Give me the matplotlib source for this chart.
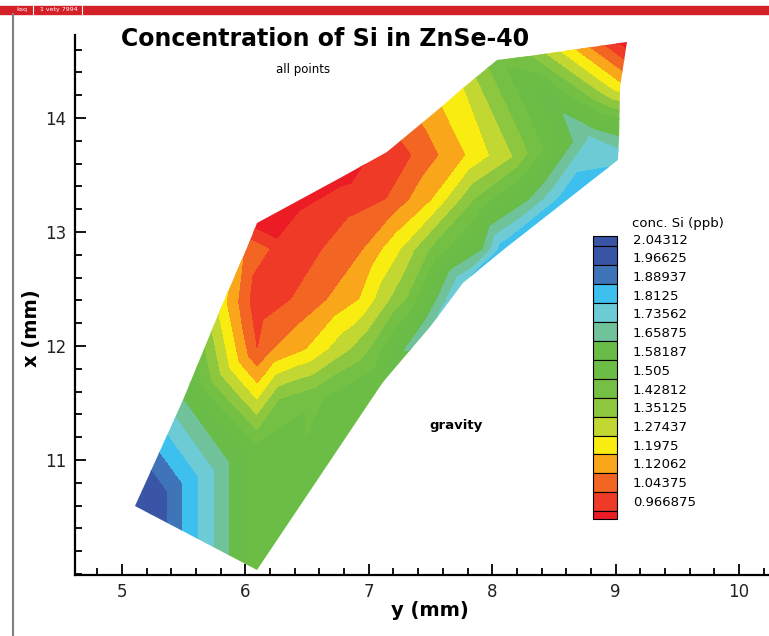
import matplotlib
matplotlib.use("Agg")
import matplotlib.pyplot as plt
import matplotlib.tri as mtri
from matplotlib.patches import Polygon, Rectangle
from matplotlib.ticker import MultipleLocator
import numpy as np

# measurement points: horizontal "y (mm)", vertical "x (mm)", conc. Si (ppb)
# first 21 points are the outline of the sample, in order
y_mm = [5.105, 6.094, 7.115, 7.496, 7.763, 8.088, 8.606, 9.019, 9.028, 9.036,
        9.092, 8.306, 8.039, 7.763, 7.577, 7.147, 6.767, 6.094, 6.013, 5.818,
        5.494,
        6.094, 6.094, 6.094, 6.094, 6.280, 6.605,
        6.224, 6.499, 6.661, 6.848, 7.010, 7.293,
        6.378, 6.661, 6.929, 7.172, 7.310, 7.553,
        6.361, 6.629, 6.953, 7.253, 7.496, 7.925,
        6.767, 7.147, 7.520, 7.861, 8.306,
        7.358, 7.796, 8.169, 8.525, 8.793]
x_mm = [10.596, 10.035, 11.684, 12.167, 12.553, 12.842, 13.281, 13.632, 13.833, 14.272,
        14.667, 14.544, 14.509, 14.263, 14.088, 13.702, 13.474, 13.079, 12.860, 12.377,
        11.526,
        12.404, 11.965, 11.526, 11.088, 11.526, 11.526,
        11.965, 11.965, 11.965, 11.965, 11.965, 11.965,
        12.404, 12.404, 12.404, 12.404, 12.404, 12.404,
        12.842, 12.842, 12.842, 12.842, 12.842, 12.842,
        13.281, 13.281, 13.281, 13.281, 13.281,
        13.675, 13.675, 13.658, 14.088, 13.825]
si_ppb = [2.12, 1.52, 1.58, 1.72, 1.80, 1.86, 1.87, 1.80, 1.66, 1.22,
          0.92, 1.43, 1.48, 1.27, 1.19, 0.99, 0.94, 0.93, 1.10, 1.22,
          1.66,
          0.99, 1.04, 1.27, 1.52, 1.43, 1.50,
          1.12, 1.20, 1.27, 1.35, 1.43, 1.66,
          1.045, 1.12, 1.20, 1.35, 1.43, 1.66,
          0.99, 1.045, 1.12, 1.27, 1.43, 1.66,
          1.00, 1.045, 1.20, 1.43, 1.66,
          1.045, 1.20, 1.35, 1.64, 1.74]
outline = list(range(21))

levels = [0.966875, 1.04375, 1.120625, 1.1975, 1.274375, 1.35125, 1.428125, 1.505,
          1.581875, 1.65875, 1.735625, 1.8125, 1.889375, 1.96625, 2.043125]
level_labels = ["2.04312", "1.96625", "1.88937", "1.8125", "1.73562", "1.65875",
                "1.58187", "1.505", "1.42812", "1.35125", "1.27437", "1.1975",
                "1.12062", "1.04375", "0.966875"]

# band colours, lowest to highest
band_colors = ["#ec1c24", "#ee3a26", "#f26522", "#faa61a", "#f8ec10", "#c2d731",
               "#8dc63f", "#74c044", "#6cbd45", "#68bc47", "#6fc29a", "#6ccbd5",
               "#3ec0ee", "#4074b9", "#3a55a5", "#3a55a5"]

fig = plt.figure(figsize=(7.69, 6.36), dpi=100)
ax = fig.add_axes([75 / 769, 61 / 636, 694 / 769, 540 / 636])

tri = mtri.Triangulation(y_mm, x_mm)
bounds = [0.0] + levels + [3.0]
cs = ax.tricontourf(tri, si_ppb, levels=bounds, colors=band_colors)
shape = Polygon(np.column_stack([np.take(y_mm, outline), np.take(x_mm, outline)]),
                closed=True, transform=ax.transData, facecolor="none", edgecolor="none")
cs.set_clip_path(shape)

ax.set_xlim(4.619, 10.243)
ax.set_ylim(9.991, 14.728)
ax.set_xticks(range(5, 11))
ax.set_yticks(range(11, 15))
ax.xaxis.set_minor_locator(MultipleLocator(0.2))
ax.yaxis.set_minor_locator(MultipleLocator(0.2))
for side in ["top", "right"]:
    ax.spines[side].set_visible(False)
for side in ["left", "bottom"]:
    ax.spines[side].set_linewidth(1.6)
ax.tick_params(which="both", direction="in", width=1.3, labelsize=12, pad=6,
               labelcolor="#222222")
ax.tick_params(which="major", length=8)
ax.tick_params(which="minor", length=5)

# overlay in pixel units for the texts, legend and window frame
ov = fig.add_axes([0, 0, 1, 1])
ov.set_xlim(0, 769)
ov.set_ylim(636, 0)
ov.axis("off")

ov.add_patch(Rectangle((0, 6), 769, 8, color="#d42027"))
ov.text(16, 10, "ksq", color="white", fontsize=4.5, va="center")
ov.plot([33, 33], [6, 14], color="white", lw=0.8)
ov.text(40, 10, "1 vety 7994", color="white", fontsize=4.5, va="center")
ov.plot([82, 82], [6, 14], color="white", lw=0.8)
ov.plot([12.5, 12.5], [14, 636], color="#808080", lw=1.5)

ov.text(325, 39, "Concentration of Si in ZnSe-40", fontsize=17, fontweight="bold",
        ha="center", va="center")
ov.text(303, 69, "all points", fontsize=8.5, ha="center", va="center")
ov.text(456, 425, "gravity", fontsize=9.5, fontweight="bold", ha="center", va="center")
ov.text(430, 610, "y (mm)", fontsize=14, fontweight="bold", ha="center", va="center")
ov.text(32, 328, "x (mm)", fontsize=14, fontweight="bold", ha="center", va="center",
        rotation=90)

# legend
edges = [236, 246] + [246 + 18.95 * k for k in range(1, 15)] + [519]
for i in range(16):
    ov.add_patch(Rectangle((593, edges[i]), 24, edges[i + 1] - edges[i],
                           facecolor=band_colors[15 - i], edgecolor="black", lw=0.8))
ov.text(632, 224, "conc. Si (ppb)", fontsize=9.5, va="center")
for k, lab in enumerate(level_labels):
    ov.text(633, 240 + 18.75 * k, lab, fontsize=9.5, va="center")

fig.savefig("out.png", dpi=100)
